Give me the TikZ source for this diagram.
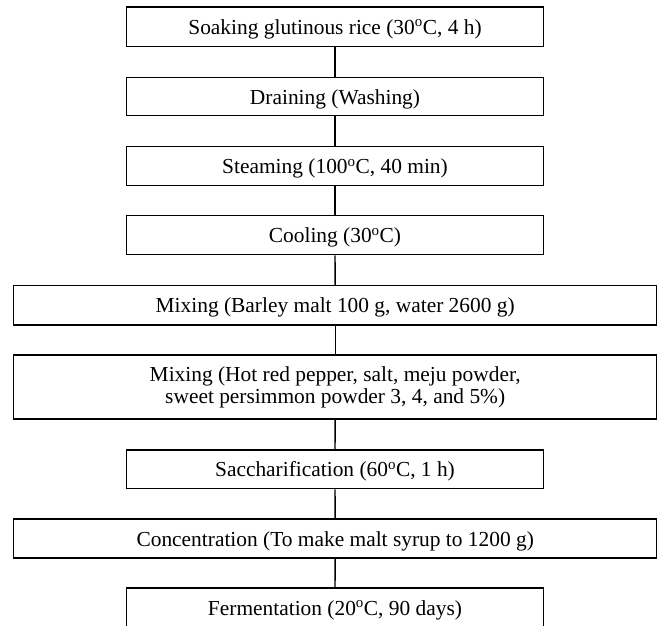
\documentclass[tikz,border=0pt]{standalone}
\usepackage{fontspec}
\setmainfont{Liberation Serif}
\begin{document}
\begin{tikzpicture}[x=1pt,y=-1pt,
  stepbox/.style={draw=black, line width=1.4pt, inner sep=0pt, anchor=center,
    font=\fontsize{21.4}{22}\selectfont, align=center},
  oneline/.style={text height=16.5pt, text depth=1.5pt},
  narrow/.style={stepbox, oneline, minimum width=416.6pt},
  wide/.style={stepbox, oneline, minimum width=643pt},
  widetwo/.style={stepbox, minimum width=643pt},
  link/.style={draw=black, line width=1.4pt}]
\useasboundingbox (0,0) rectangle (664,626);
\clip (0,0) rectangle (664,626);
\fill[white] (0,0) rectangle (664,626);
\node[narrow, minimum height=39.7pt] (n1) at (335,26.8) {Soaking glutinous rice (30\textsuperscript{o}C, 4 h)};
\node[narrow, minimum height=38pt] (n2) at (335,96.7) {Draining (Washing)};
\node[narrow, minimum height=39pt] (n3) at (335,166.2) {Steaming (100\textsuperscript{o}C, 40 min)};
\node[narrow, minimum height=39pt] (n4) at (335,235.2) {Cooling (30\textsuperscript{o}C)};
\node[wide, minimum height=39.3pt] (n5) at (335.2,305.3) {Mixing (Barley malt 100 g, water 2600 g)};
\node[widetwo, minimum height=64pt] (n6) at (335.2,387) {Mixing (Hot red pepper, salt, meju powder,\\sweet persimmon powder 3, 4, and 5\%)};
\node[narrow, minimum height=38.7pt] (n7) at (335,469.3) {Saccharification (60\textsuperscript{o}C, 1 h)};
\node[wide, minimum height=39pt] (n8) at (335.2,538.5) {Concentration (To make malt syrup to 1200 g)};
\node[narrow, minimum height=39pt] (n9) at (335,607.5) {Fermentation (20\textsuperscript{o}C, 90 days)};
\foreach \a/\b in {n1/n2,n2/n3,n3/n4,n4/n5,n5/n6,n6/n7,n7/n8,n8/n9}
  \draw[link] (\a.south) -- (\b.north);
\end{tikzpicture}
\end{document}
